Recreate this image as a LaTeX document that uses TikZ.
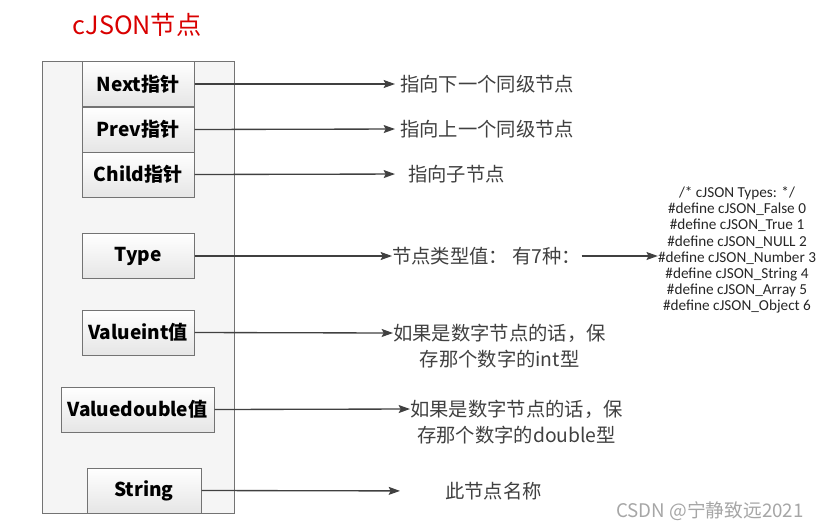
\documentclass[tikz,border=0pt]{standalone}
\usepackage{fontspec}
\setmainfont{Carlito}
\newfontfamily\cjk{Noto Sans CJK SC}
\usetikzlibrary{arrows.meta,positioning}
\tikzset{>={Stealth[length=3.4mm,width=2.4mm,inset=0.6mm]}}
\colorlet{boxLine}{black!55}
\colorlet{penColor}{black!75}
\colorlet{titleColor}{red!85!black}
\tikzset{
  field/.style={draw=boxLine,line width=0.3mm,top color=white,bottom color=black!10,
    minimum width=33.6mm,minimum height=13.5mm,inner sep=0pt,
    font=\cjk\bfseries\fontsize{16.3}{19}\selectfont},
  note/.style={inner sep=0pt,text=penColor,font=\cjk\fontsize{16.5}{19}\selectfont},
  link/.style={->,penColor,line width=0.4mm},
}

\begin{document}
\begin{tikzpicture}[x=0.3mm,y=-0.3mm]
\useasboundingbox (0,0) rectangle (820,529);
\node [text=titleColor,font=\cjk\fontsize{21.5}{26}\selectfont] (title) at (137,25) {cJSON节点};
\draw [boxLine,line width=0.3mm,fill=black!4] (42,61) rectangle (234,513);% outer frame of the node
% fields of the struct
\node [field] (next) at (138,84) {Next指针};
\node [field] (prev) at (138,129.5) {Prev指针};
\node [field] (child) at (138,174.5) {Child指针};
\node [field] (type) at (138,256) {Type};
\node [field] (valint) at (138,332.5) {Valueint值};
\node [field,minimum width=45.9mm] (valdbl) at (137.5,409.5) {Valuedouble值};
\node [field,minimum width=34.2mm] (str) at (144,490.5) {String};
% what each field means
\node [note,anchor=west] (nextTxt) at (400,84) {指向下一个同级节点};
\node [note,anchor=west] (prevTxt) at (400,129) {指向上一个同级节点};
\node [note,anchor=west] (childTxt) at (408,174) {指向子节点};
\node [note,anchor=west] (typeTxt) at (392,256) {节点类型值： 有7种：};
\node [note,anchor=west] (valintTxt) at (393,333) {如果是数字节点的话，保};
\node [note,below=2.2mm of valintTxt] (valintTxt2) {存那个数字的int型};
\node [note,anchor=west] (valdblTxt) at (410,409) {如果是数字节点的话，保};
\node [note,below=2.2mm of valdblTxt] (valdblTxt2) {存那个数字的double型};
\node [note,anchor=west] (strTxt) at (445,491) {此节点名称};
\node [inner sep=0pt,text=black!85,align=center,font=\fontsize{13}{13.8}\selectfont] (types) at (737,250)
  {/* cJSON Types: */\\ \#define cJSON\_False 0\\ \#define cJSON\_True 1\\ \#define cJSON\_NULL 2\\
   \#define cJSON\_Number 3\\ \#define cJSON\_String 4\\ \#define cJSON\_Array 5\\ \#define cJSON\_Object 6};
\node [anchor=west,text=black!35,font=\cjk\fontsize{16}{19}\selectfont] (mark) at (612,511) {CSDN @宁静致远2021};
% arrows
\draw [link,shorten >=1.5mm] (next.east) -- (nextTxt.west);
\draw [link,shorten >=1.5mm] (prev.east) -- (prevTxt.west);
\draw [link,shorten >=3.9mm] (child.east) -- (childTxt.west);
\draw [link] (type.east) -- (typeTxt.west);
\draw [link] (typeTxt.east) -- (typeTxt.east -| types.west);
\draw [link] (valint.east) -- (valintTxt.west);
\draw [link] (valdbl.east) -- (valdblTxt.west);
\draw [link,shorten >=13.5mm] (str.east) -- (strTxt.west);
\end{tikzpicture}
\end{document}
